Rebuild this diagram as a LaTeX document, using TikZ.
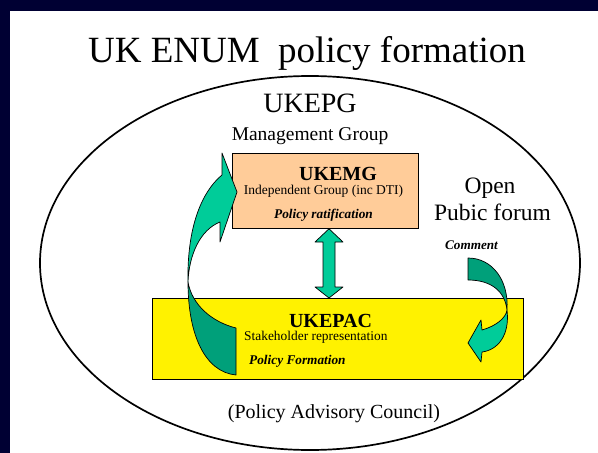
\documentclass[tikz,border=0pt]{standalone}
\usepackage{fontspec}
\setmainfont{Liberation Serif}
\definecolor{navy}{HTML}{000033}
\definecolor{peach}{HTML}{FFCC99}
\definecolor{lgreen}{HTML}{00CC99}
\definecolor{dgreen}{HTML}{00A07A}
\tikzset{
  boxstyle/.style={draw=black, line width=0.8pt, inner sep=0pt, anchor=north west},
  txt/.style={inner sep=0pt, anchor=base, text=black},
  arrowpart/.style={draw=black, line width=0.7pt, line join=round},
}
\begin{document}
\begin{tikzpicture}[x=1pt,y=-1pt]
\useasboundingbox (0,0) rectangle (598,453);
\fill[navy] (0,0) rectangle (598,453);
\fill[white] (10,11) rectangle (598,453);
% outer ellipse
\draw[line width=1.7pt] (310,263) ellipse [x radius=270, y radius=187];
% title and group texts
\node[txt, font=\fontsize{37}{40}\selectfont] (title) at (307,62) {UK ENUM\ \ policy formation};
\node[txt, font=\fontsize{28}{30}\selectfont] (ukepg) at (310,112) {UKEPG};
\node[txt, font=\fontsize{19.5}{22}\selectfont] (mgmt) at (310,140) {Management Group};
% boxes
\node[boxstyle, fill=peach, minimum width=186pt, minimum height=75pt] (emg) at (232,153) {};
\node[boxstyle, fill=yellow, minimum width=371pt, minimum height=81pt] (epac) at (152,298) {};
% UKEMG texts
\node[txt, font=\bfseries\fontsize{20}{22}\selectfont] (emgname) at (338,180) {UKEMG};
\node[txt, font=\fontsize{13.5}{15}\selectfont] (emgdesc) at (323.5,194) {Independent Group (inc DTI)};
\node[txt, font=\bfseries\itshape\fontsize{13.3}{15}\selectfont] (emgrole) at (323.5,218) {Policy ratification};
% UKEPAC texts
\node[txt, font=\bfseries\fontsize{20}{22}\selectfont] (epacname) at (330.5,327) {UKEPAC};
\node[txt, anchor=base west, font=\fontsize{13.4}{15}\selectfont] (epacdesc) at (244,340) {Stakeholder representation};
\node[txt, anchor=base west, font=\bfseries\itshape\fontsize{13.3}{15}\selectfont] (epacrole) at (249,364) {Policy Formation};
% bottom text
\node[txt, font=\fontsize{20}{22}\selectfont] (pac) at (334,418) {(Policy Advisory Council)};
% open forum
\node[txt, font=\fontsize{23.5}{26}\selectfont] (open) at (490,193) {Open};
\node[txt, font=\fontsize{23.5}{26}\selectfont] (forum) at (492.5,220) {Pubic forum};
\node[txt, font=\bfseries\itshape\fontsize{13.2}{15}\selectfont] (comment) at (471.5,249) {Comment};
% double arrow between boxes
\draw[arrowpart, fill=lgreen] (emg.south -| 329,0) -- (343,242) -- (335,242) -- (335,287) -- (343,287)
  -- (epac.north -| 329,0) -- (315,287) -- (323,287) -- (323,242) -- (315,242) -- cycle;
% left curved arrow (UKEPAC -> UKEMG)
\draw[arrowpart, fill=dgreen] (188,282) .. controls (188,335) and (205,372) .. (236,375)
  -- (236,328) .. controls (212,322) and (192,305) .. (188,282) -- cycle;
\draw[arrowpart, fill=lgreen] (222,153) -- (237,192) -- (220,242) -- (220,222)
  .. controls (200,230) and (189,255) .. (188,282)
  .. controls (187,235) and (198,195) .. (222,175) -- cycle;
% right curved arrow (forum -> UKEPAC)
\draw[arrowpart, fill=dgreen] (468,258) .. controls (492,258) and (509,280) .. (507,310)
  .. controls (505,292) and (492,280) .. (468,280) -- cycle;
\draw[arrowpart, fill=lgreen] (507,310) .. controls (510,335) and (498,350) .. (482,352)
  -- (481,362) -- (468,343) -- (481,320) -- (482,330)
  .. controls (496,326) and (506,318) .. (507,310) -- cycle;
\end{tikzpicture}
\end{document}
